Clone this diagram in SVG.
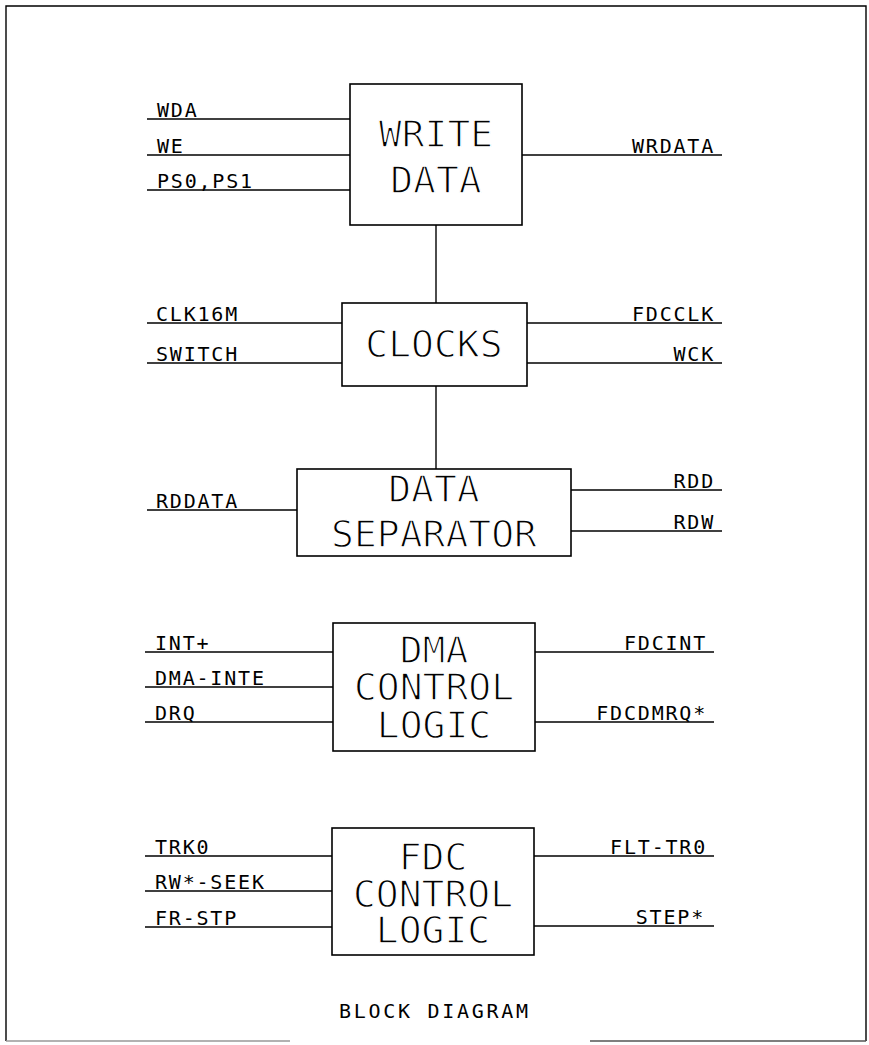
<svg xmlns="http://www.w3.org/2000/svg" width="869" height="1045" viewBox="0 0 869 1045">
<style>
.box{fill:#fff;stroke:#000;stroke-width:1.6}
.ln{stroke:#000;stroke-width:1.4;fill:none}
.big{font-family:"DejaVu Sans Mono","Liberation Mono",monospace;font-size:38px;fill:#000;stroke:#fff;stroke-width:1.3;text-anchor:middle}
.lbl{font-family:"DejaVu Sans Mono","Liberation Mono",monospace;font-size:20px;letter-spacing:1.8px;fill:#000}
.r{text-anchor:end}
</style>
<rect x="0" y="0" width="869" height="1045" fill="#fff"/>
<g id="frame">
<path class="ln" d="M6 1041 V6 H866 V1041" stroke-width="2"/>
<line x1="6" y1="1041" x2="290" y2="1041" stroke="#999" stroke-width="1.5"/>
<line x1="590" y1="1041" x2="866" y2="1041" stroke="#555" stroke-width="1.5"/>
</g>
<g id="connectors">
<line class="ln" x1="436" y1="225" x2="436" y2="303"/>
<line class="ln" x1="436" y1="386" x2="436" y2="469"/>
<line class="ln" x1="147" y1="119" x2="350" y2="119"/>
<line class="ln" x1="147" y1="155" x2="350" y2="155"/>
<line class="ln" x1="147" y1="190" x2="350" y2="190"/>
<line class="ln" x1="522" y1="155" x2="722" y2="155"/>
<line class="ln" x1="147" y1="323" x2="342" y2="323"/>
<line class="ln" x1="147" y1="363" x2="342" y2="363"/>
<line class="ln" x1="527" y1="323" x2="722" y2="323"/>
<line class="ln" x1="527" y1="363" x2="722" y2="363"/>
<line class="ln" x1="147" y1="510" x2="297" y2="510"/>
<line class="ln" x1="571" y1="490" x2="722" y2="490"/>
<line class="ln" x1="571" y1="531" x2="722" y2="531"/>
<line class="ln" x1="145" y1="652" x2="333" y2="652"/>
<line class="ln" x1="145" y1="687" x2="333" y2="687"/>
<line class="ln" x1="145" y1="722" x2="333" y2="722"/>
<line class="ln" x1="535" y1="652" x2="714" y2="652"/>
<line class="ln" x1="535" y1="722" x2="714" y2="722"/>
<line class="ln" x1="145" y1="856" x2="332" y2="856"/>
<line class="ln" x1="145" y1="891" x2="332" y2="891"/>
<line class="ln" x1="145" y1="927" x2="332" y2="927"/>
<line class="ln" x1="534" y1="856" x2="714" y2="856"/>
<line class="ln" x1="534" y1="926" x2="714" y2="926"/>
</g>
<g id="labels">
<text class="lbl" x="157" y="117">WDA</text>
<text class="lbl" x="157" y="153">WE</text>
<text class="lbl" x="157" y="188">PS0,PS1</text>
<text class="lbl r" x="715" y="153">WRDATA</text>
<text class="lbl" x="156" y="321">CLK16M</text>
<text class="lbl" x="156" y="361">SWITCH</text>
<text class="lbl r" x="715" y="321">FDCCLK</text>
<text class="lbl r" x="715" y="361">WCK</text>
<text class="lbl" x="156" y="508">RDDATA</text>
<text class="lbl r" x="715" y="488">RDD</text>
<text class="lbl r" x="715" y="529">RDW</text>
<text class="lbl" x="155" y="650">INT+</text>
<text class="lbl" x="155" y="685">DMA-INTE</text>
<text class="lbl" x="155" y="720">DRQ</text>
<text class="lbl r" x="707" y="650">FDCINT</text>
<text class="lbl r" x="707" y="720">FDCDMRQ*</text>
<text class="lbl" x="155" y="854">TRK0</text>
<text class="lbl" x="155" y="889">RW*-SEEK</text>
<text class="lbl" x="155" y="925">FR-STP</text>
<text class="lbl r" x="707" y="854">FLT-TR0</text>
<text class="lbl r" x="705" y="924">STEP*</text>
</g>
<g id="write-data">
<rect class="box" x="350" y="84" width="172" height="141"/>
<text class="big" x="436" y="147">WRITE</text>
<text class="big" x="436" y="193">DATA</text>
</g>
<g id="clocks">
<rect class="box" x="342" y="303" width="185" height="83"/>
<text class="big" x="434" y="357">CLOCKS</text>
</g>
<g id="data-separator">
<rect class="box" x="297" y="469" width="274" height="87"/>
<text class="big" x="434" y="502">DATA</text>
<text class="big" x="434" y="547">SEPARATOR</text>
</g>
<g id="dma-control-logic">
<rect class="box" x="333" y="623" width="202" height="128"/>
<text class="big" x="434" y="663">DMA</text>
<text class="big" x="434" y="700">CONTROL</text>
<text class="big" x="434" y="738">LOGIC</text>
</g>
<g id="fdc-control-logic">
<rect class="box" x="332" y="828" width="202" height="127"/>
<text class="big" x="433" y="870">FDC</text>
<text class="big" x="433" y="907">CONTROL</text>
<text class="big" x="433" y="943">LOGIC</text>
</g>
<text class="lbl" x="339" y="1018" style="letter-spacing:2.7px">BLOCK DIAGRAM</text>
</svg>
